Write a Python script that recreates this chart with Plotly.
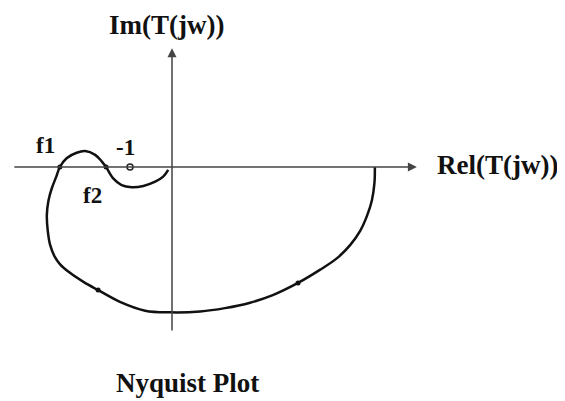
import plotly.graph_objects as go

# Nyquist curve (units: -1 point at x=-1)
curve_re = [4.83, 4.82, 4.76, 4.64, 4.48, 4.24, 3.93, 3.52, 3.00, 2.40, 1.86, 1.26, 0.67,
            -0.05, -0.64, -1.24, -1.76, -2.10, -2.43, -2.67, -2.79, -2.90, -2.96, -2.98,
            -2.94, -2.86, -2.76, -2.67,
            -2.51, -2.27, -2.07, -1.83, -1.67, -1.57, -1.40, -1.20, -0.96, -0.68,
            -0.40, -0.21, -0.09]
curve_im = [0.00, -0.38, -0.79, -1.17, -1.52, -1.86, -2.17, -2.45, -2.76, -3.05, -3.23, -3.36, -3.44,
            -3.46, -3.42, -3.21, -2.93, -2.74, -2.52, -2.31, -2.14, -1.86, -1.50, -1.14,
            -0.79, -0.50, -0.24, 0.00,
            0.21, 0.34, 0.38, 0.29, 0.13, 0.00, -0.27, -0.43, -0.48, -0.45,
            -0.35, -0.23, -0.07]

# marked points on the curve
dot_re = [-2.67, -1.57, -1.76, 3.00]
dot_im = [0.0, 0.0, -2.93, -2.76]

# critical point
crit_re = [-1.0]
crit_im = [0.0]

labels = ["f1", "-1", "f2"]
label_re = [-3.02, -1.10, -1.90]
label_im = [0.52, 0.47, -0.69]

fig = go.Figure()
fig.add_trace(go.Scatter(x=curve_re, y=curve_im, mode="lines",
                         line=dict(color="#111111", width=2.5, shape="spline", smoothing=1.0),
                         hoverinfo="skip"))
fig.add_trace(go.Scatter(x=dot_re, y=dot_im, mode="markers",
                         marker=dict(color="#111111", size=5), hoverinfo="skip"))
fig.add_trace(go.Scatter(x=crit_re, y=crit_im, mode="markers",
                         marker=dict(color="white", size=6, line=dict(color="#222222", width=1.5)),
                         hoverinfo="skip"))

serif = "Liberation Serif, Times New Roman, serif"
ann = []
# axes with arrows
ann.append(dict(x=5.83, y=0, ax=-3.79, ay=0, xref="x", yref="y", axref="x", ayref="y",
                text="", showarrow=True, arrowhead=2, arrowsize=1.2, arrowwidth=1.5,
                arrowcolor="#444444"))
ann.append(dict(x=0, y=2.83, ax=0, ay=-3.93, xref="x", yref="y", axref="x", ayref="y",
                text="", showarrow=True, arrowhead=2, arrowsize=1.2, arrowwidth=1.5,
                arrowcolor="#444444"))
for t, xx, yy in zip(labels, label_re, label_im):
    ann.append(dict(x=xx, y=yy, xref="x", yref="y", text="<b>%s</b>" % t, showarrow=False,
                    xanchor="center", yanchor="middle",
                    font=dict(family=serif, size=23, color="#111111")))
# axis titles and chart title
ann.append(dict(x=-0.12, y=1.0, xref="x", yref="paper", xanchor="center", yanchor="top",
                text="<b>Im(T(jw))</b>", showarrow=False,
                font=dict(family=serif, size=27, color="#111111")))
ann.append(dict(x=7.74, y=0.05, xref="x", yref="y", xanchor="center", yanchor="middle",
                text="<b>Rel(T(jw))</b>", showarrow=False,
                font=dict(family=serif, size=27, color="#111111")))
ann.append(dict(x=0.36, y=-5.14, xref="x", yref="y", xanchor="center", yanchor="middle",
                text="<b>Nyquist Plot</b>", showarrow=False,
                font=dict(family=serif, size=27, color="#111111")))

# page body has an 8px margin: figure covers reference pixels 8..565 x 8..401
fig.update_layout(
    width=557, height=393,
    margin=dict(l=0, r=0, t=0, b=0),
    paper_bgcolor="white", plot_bgcolor="white",
    showlegend=False,
    xaxis=dict(range=[-3.905, 9.357], visible=False, fixedrange=True),
    yaxis=dict(range=[-5.571, 3.786], visible=False, fixedrange=True),
    annotations=ann,
)
fig.write_html("out.html")
